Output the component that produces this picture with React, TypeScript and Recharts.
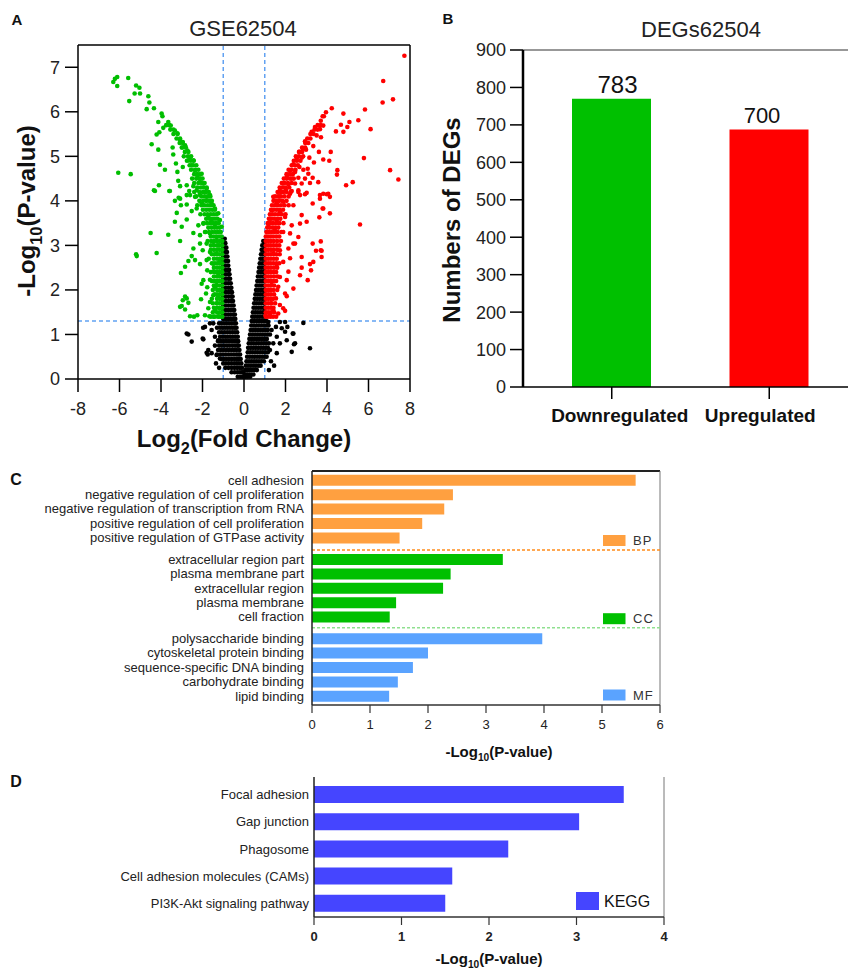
import React from 'react';
import {
  ScatterChart, Scatter, XAxis, YAxis, ReferenceLine,
  BarChart, Bar, Cell, LabelList,
} from 'recharts';

const FONT = '"Liberation Sans", Arial, Helvetica, sans-serif';
const INK = '#222';

type Row = [number, number[]];
type Pair = [number, number];

// ---------------- Panel A : volcano plot (log2FC, -log10 P) ----------------
const downScatter: Pair[] = [
  [-6.30,6.67],[-6.22,6.74],[-6.11,6.78],[-6.11,6.58],[-5.58,6.76],[-5.2,6.59],[-5.04,6.54],[-5.27,6.41],[-5.01,6.41],
  [-5.53,6.24],[-4.61,6.35],[-4.56,6.21],[-4.34,6.08],[-4.69,6.06],[-3.97,5.96],[-3.93,5.9],[-4.13,5.77],[-3.65,5.77],
  [-3.89,5.64],[-3.53,5.69],[-4.08,5.54],[-4.21,5.49],[-3.33,5.58],[-3.21,5.52],[-3.08,5.36],[-2.95,5.32],[-2.84,5.25],
  [-3.0,5.2],[-2.73,5.13],[-4.45,5.27],[-4.13,5.15],[-3.44,5.2],[-3.41,5.04],[-2.6,4.98],[-2.68,4.91],[-2.44,4.91],
  [-2.52,4.8],[-2.36,4.69],[-2.25,4.57],[-2.12,4.5],[-1.96,4.39],[-1.8,4.28],[-1.64,4.13],[-4.05,4.81],[-3.81,4.7],
  [-3.21,4.65],[-2.95,4.76],[-3.28,4.84],[-6.06,4.63],[-5.46,4.6],[-4.1,4.35],[-4.34,4.24],[-3.6,4.22],[-3.17,4.45],
  [-3.08,4.33],[-2.76,4.35],[-2.64,4.22],[-2.44,4.33],[-2.28,4.24],[-2.12,4.13],[-2.76,4.13],[-3.15,4.07],[-2.04,4.61],
  [-2.12,4.42],[-1.88,4.2],[-4.29,4.22],[-3.57,4.22],[-3.33,4.0],[-3.08,4.05],[-3.04,3.9],[-2.76,3.92],[-2.6,4.13],
  [-2.36,4.09],[-2.52,3.77],[-2.28,3.83],[-2.04,3.94],[-1.8,4.01],[-1.56,3.94],[-1.4,3.83],[-1.24,3.72],[-1.16,3.57],
  [-1.07,3.42],[-3.24,3.73],[-3.33,3.53],[-2.76,3.58],[-3.0,3.42],[-2.2,3.45],[-1.96,3.49],[-1.72,3.64],[-1.56,3.53],
  [-1.4,3.42],[-2.44,3.28],[-2.12,3.23],[-1.88,3.3],[-1.64,3.27],[-1.32,3.19],[-4.5,3.28],[-3.65,3.24],[-3.08,3.1],
  [-2.12,3.04],[-1.8,3.04],[-1.48,3.08],[-1.24,3.0],[-2.44,2.93],[-1.99,2.89],[-1.64,2.85],[-1.32,2.82],[-5.2,2.8],
  [-5.17,2.76],[-4.21,2.83],[-2.52,2.76],[-2.68,2.65],[-2.36,2.67],[-2.12,2.58],[-1.8,2.67],[-1.48,2.59],[-1.19,2.63],
  [-2.84,2.52],[-3.04,2.38],[-1.77,2.44],[-1.48,2.41],[-1.24,2.37],[-1.96,2.22],[-1.64,2.23],[-1.32,2.18],[-2.04,2.14],
  [-1.77,2.06],[-1.4,2.06],[-1.16,2.0],[-1.83,1.92],[-1.48,1.88],[-1.24,1.85],[-2.76,1.81],[-2.68,1.71],[-2.07,1.79],
  [-1.64,1.73],[-1.32,1.7],[-3.0,1.64],[-2.84,1.56],[-1.72,1.59],[-1.4,1.55],[-1.16,1.59],[-2.6,1.41],[-2.41,1.4],
  [-2.25,1.43],[-1.88,1.43],[-1.67,1.41],[-1.48,1.4],[-1.24,1.41],[-3.08,1.62],[-2.95,1.77],[-2.84,1.85],
];
const downDenseRows: Row[] = [
  [1.4,[-1.05,-1.15,-1.25,-1.4,-1.6]],[1.5,[-1.05,-1.17,-1.3,-1.5]],[1.6,[-1.05,-1.17,-1.3,-1.45]],
  [1.7,[-1.05,-1.17,-1.29,-1.5]],[1.8,[-1.05,-1.17,-1.3,-1.55]],[1.9,[-1.05,-1.17,-1.3,-1.42]],
  [2.0,[-1.05,-1.17,-1.29,-1.5]],[2.1,[-1.05,-1.17,-1.3,-1.45]],[2.2,[-1.05,-1.17,-1.29,-1.42,-1.55]],
  [2.3,[-1.05,-1.17,-1.3,-1.45]],[2.4,[-1.05,-1.17,-1.29,-1.4,-1.6]],[2.5,[-1.05,-1.17,-1.3,-1.45]],
  [2.6,[-1.05,-1.17,-1.29,-1.4,-1.55]],[2.7,[-1.05,-1.17,-1.3,-1.45,-1.7]],[2.8,[-1.05,-1.17,-1.3,-1.42,-1.55]],
  [2.9,[-1.05,-1.17,-1.3,-1.45,-1.6]],[3.0,[-1.05,-1.17,-1.3,-1.45,-1.6]],[3.1,[-1.05,-1.17,-1.3,-1.43,-1.58,-1.75]],
  [3.2,[-1.08,-1.2,-1.33,-1.46,-1.6]],[3.3,[-1.12,-1.25,-1.38,-1.52,-1.68,-1.85]],[3.4,[-1.17,-1.3,-1.43,-1.57,-1.72]],
  [3.5,[-1.22,-1.35,-1.48,-1.62,-1.78,-1.95]],[3.6,[-1.28,-1.4,-1.53,-1.67,-1.82]],[3.7,[-1.33,-1.46,-1.6,-1.75,-1.9,-2.1]],
  [3.8,[-1.4,-1.53,-1.67,-1.82,-1.98]],[3.9,[-1.47,-1.6,-1.74,-1.9,-2.05,-2.25]],[4.0,[-1.55,-1.68,-1.82,-1.97,-2.15]],
  [4.1,[-1.62,-1.76,-1.9,-2.05,-2.3]],[4.2,[-1.7,-1.84,-1.98,-2.15,-2.4]],[4.3,[-1.8,-1.94,-2.08,-2.25]],
  [4.4,[-1.9,-2.04,-2.2,-2.4]],[4.5,[-2.0,-2.15,-2.3,-2.5]],[4.6,[-2.1,-2.25,-2.4]],[4.7,[-2.2,-2.35,-2.55]],
  [4.8,[-2.3,-2.45,-2.62]],[4.9,[-2.42,-2.56,-2.75]],[5.0,[-2.55,-2.7,-2.9]],[5.1,[-2.68,-2.85]],[5.2,[-2.8,-2.97]],
  [5.3,[-2.95,-3.1]],[5.4,[-3.08,-3.25]],[5.5,[-3.2,-3.4]],[5.6,[-3.4,-3.55]],[5.7,[-3.6,-3.75]],
];
const upScatter: Pair[] = [
  [7.73,7.26],[6.71,6.69],[6.68,6.21],[7.18,6.28],[5.83,6.05],[5.51,5.81],[6.1,5.61],[5.78,4.96],[7.04,4.69],[7.44,4.48],
  [4.79,5.96],[4.23,6.08],[3.95,5.99],[3.79,5.9],[4.67,5.71],[5.08,5.77],[4.98,5.66],[4.43,5.56],[4.79,5.55],[3.82,5.69],
  [3.42,5.66],[3.66,5.61],[3.26,5.55],[3.5,5.47],[3.71,5.43],[2.94,5.34],[3.34,5.23],[2.83,5.17],[2.67,5.1],[2.99,5.15],
  [3.61,5.1],[4.18,5.1],[2.54,4.95],[2.78,4.97],[3.15,4.97],[3.82,4.93],[4.11,4.9],[3.37,4.86],[2.38,4.82],[2.67,4.76],
  [2.22,4.69],[2.46,4.65],[2.86,4.7],[3.07,4.72],[4.5,4.69],[4.48,4.59],[2.06,4.54],[2.3,4.5],[2.62,4.52],[2.94,4.5],
  [3.31,4.52],[3.1,4.61],[3.58,4.42],[5.24,4.42],[4.92,4.35],[1.89,4.39],[2.14,4.37],[2.46,4.39],[2.78,4.39],[3.18,4.4],
  [1.73,4.24],[2.02,4.25],[2.3,4.22],[2.62,4.24],[3.02,4.18],[1.7,4.1],[3.66,4.13],[3.82,4.16],[4.06,4.16],[2.7,4.13],
  [1.82,4.2],[2.22,4.16],[2.62,4.2],[2.94,4.15],[3.31,3.94],[3.66,4.05],[3.99,4.15],[4.14,4.09],[3.82,3.83],[3.63,3.63],
  [4.14,3.72],[5.59,3.47],[1.41,4.09],[1.58,3.94],[1.89,3.98],[2.38,3.9],[2.78,3.68],[3.02,3.53],[2.7,3.49],[2.3,3.45],
  [1.98,3.64],[1.73,3.75],[1.33,3.79],[1.25,3.6],[1.58,3.57],[1.17,3.42],[1.49,3.34],[1.89,3.3],[2.22,3.27],[2.62,3.19],
  [2.46,3.04],[3.31,3.04],[3.7,3.09],[3.47,2.88],[3.74,2.88],[3.74,2.74],[2.78,2.74],[3.34,2.63],[3.18,2.58],[3.23,2.44],
  [2.78,2.5],[2.7,2.33],[3.07,2.22],[2.38,2.03],[1.98,1.92],[2.06,1.86],[1.73,1.66],[1.89,1.59],[1.33,1.7],[1.41,1.55],
  [1.65,1.47],[1.98,1.53],[1.25,1.43],[1.04,1.43],[2.38,3.04],[2.14,2.93],[1.73,2.89],[1.41,2.82],[2.22,2.71],[1.89,2.63],
  [1.58,2.52],[2.14,2.41],[1.73,2.29],[1.33,2.18],[2.06,2.22],[1.65,2.07],[1.25,2.0],[1.54,1.81],[3.79,3.83],[3.7,2.89],
];
const upDenseRows: Row[] = [
  [1.4,[1.05,1.15,1.27,1.4,1.55]],[1.5,[1.05,1.17,1.3,1.45]],[1.6,[1.05,1.17,1.29,1.42]],[1.7,[1.05,1.17,1.3,1.5]],
  [1.8,[1.05,1.17,1.29,1.4]],[1.9,[1.05,1.17,1.3,1.45]],[2.0,[1.05,1.17,1.29,1.42,1.6]],[2.1,[1.05,1.17,1.3,1.45]],
  [2.2,[1.05,1.17,1.29,1.42,1.55]],[2.3,[1.05,1.17,1.3,1.45,1.62]],[2.4,[1.05,1.17,1.29,1.42,1.55]],
  [2.5,[1.05,1.17,1.3,1.45,1.6]],[2.6,[1.05,1.17,1.29,1.42,1.56,1.7]],[2.7,[1.05,1.17,1.3,1.44,1.58]],
  [2.8,[1.05,1.17,1.29,1.42,1.56,1.72]],[2.9,[1.05,1.17,1.3,1.44,1.6]],[3.0,[1.05,1.17,1.29,1.42,1.56,1.7]],
  [3.1,[1.05,1.17,1.3,1.44,1.6,1.78]],[3.2,[1.05,1.15,1.27,1.4,1.55,1.7]],[3.3,[1.08,1.2,1.33,1.47,1.62,1.8]],
  [3.4,[1.12,1.24,1.37,1.5,1.65]],[3.5,[1.15,1.27,1.4,1.55,1.7,1.9]],[3.6,[1.2,1.32,1.45,1.6,1.75]],
  [3.7,[1.25,1.37,1.5,1.65,1.82,2.0]],[3.8,[1.3,1.42,1.56,1.7,1.88]],[3.9,[1.35,1.48,1.62,1.78,1.95,2.15]],
  [4.0,[1.42,1.55,1.7,1.85,2.05]],[4.1,[1.5,1.64,1.78,1.95,2.15]],[4.2,[1.62,1.76,1.9,2.05,2.25]],
  [4.3,[1.72,1.86,2.0,2.18]],[4.4,[1.82,1.96,2.12,2.3]],[4.5,[1.92,2.06,2.22,2.4]],[4.6,[2.05,2.2,2.35]],
  [4.7,[2.15,2.3,2.48]],[4.8,[2.3,2.45,2.6]],[4.9,[2.4,2.55,2.72]],[5.0,[2.5,2.65,2.85]],[5.1,[2.65,2.8]],
  [5.2,[2.8,2.95]],[5.3,[2.95,3.1]],[5.4,[3.05,3.2]],[5.5,[3.2,3.35]],[5.6,[3.4,3.55]],[5.7,[3.55,3.7]],
  [5.8,[3.7]],[5.9,[3.85]],
];
const nsScatter: Pair[] = [
  [-2.76,1.02],[-2.52,0.84],[-1.96,0.89],[-1.88,1.17],[-1.64,1.25],[-1.56,1.1],[-1.4,0.95],[-1.72,0.65],[-1.56,0.58],
  [-1.32,0.54],[-1.16,0.46],[-1.48,1.25],[-1.24,0.87],[-1.97,1.15],[-2.68,1.0],[-1.99,0.91],[-1.8,0.59],[-1.75,0.55],
  [-1.3,1.15],[-1.4,0.75],[-1.35,0.35],[-1.2,0.25],
  [1.17,1.28],[1.33,1.1],[1.54,1.17],[1.58,0.95],[1.41,0.8],[1.73,0.8],[1.98,1.06],[2.09,1.17],[2.35,1.02],[2.46,0.8],
  [2.3,0.61],[1.25,0.65],[1.58,0.58],[1.09,0.5],[2.86,1.26],[3.18,0.69],[1.98,1.28],[1.73,1.28],[2.38,1.02],[2.41,0.78],
  [1.82,1.14],[2.06,0.87],[1.3,0.4],[1.45,0.3],[1.2,0.2],
];
const nsLeftRows: Row[] = [
  [3.15,[-1.02,-0.93]],[3.05,[-1.0,-0.9]],[2.95,[-1.0,-0.92,-0.85]],[2.85,[-1.0,-0.9,-0.82]],[2.75,[-1.0,-0.9,-0.8]],
  [2.65,[-1.0,-0.9,-0.8,-0.77]],[2.55,[-1.0,-0.88,-0.76]],[2.45,[-1.0,-0.88,-0.76,-0.72]],[2.35,[-1.0,-0.87,-0.75,-0.7]],
  [2.25,[-1.0,-0.87,-0.75,-0.67]],[2.15,[-1.0,-0.87,-0.75,-0.64]],[2.05,[-1.0,-0.88,-0.76,-0.64,-0.61]],
  [1.95,[-1.0,-0.87,-0.74,-0.62,-0.58]],[1.85,[-1.0,-0.87,-0.74,-0.62,-0.55]],[1.75,[-1.0,-0.87,-0.74,-0.62,-0.53]],
  [1.65,[-1.0,-0.87,-0.74,-0.61,-0.5]],[1.55,[-1.0,-0.88,-0.76,-0.64,-0.52,-0.47]],[1.45,[-1.0,-0.88,-0.76,-0.64,-0.52,-0.44]],
  [1.35,[-1.0,-0.88,-0.76,-0.64,-0.52,-0.42]],[1.25,[-1.2,-1.08,-0.96,-0.84,-0.72,-0.6,-0.48,-0.39]],
  [1.15,[-1.15,-1.03,-0.91,-0.79,-0.67,-0.55,-0.44,-0.36]],[1.05,[-1.2,-1.07,-0.94,-0.81,-0.68,-0.56,-0.44,-0.33]],
  [0.95,[-1.15,-1.02,-0.9,-0.78,-0.66,-0.54,-0.42,-0.3]],[0.85,[-1.25,-1.12,-0.99,-0.86,-0.73,-0.6,-0.48,-0.36,-0.28]],
  [0.75,[-1.2,-1.07,-0.94,-0.81,-0.68,-0.55,-0.43,-0.32,-0.25]],[0.65,[-1.25,-1.12,-0.99,-0.86,-0.73,-0.6,-0.48,-0.36,-0.22]],
  [0.55,[-1.3,-1.15,-1.02,-0.89,-0.76,-0.63,-0.5,-0.38,-0.28,-0.19]],[0.45,[-1.1,-0.97,-0.84,-0.71,-0.58,-0.45,-0.33,-0.22,-0.16]],
  [0.35,[-1.0,-0.87,-0.74,-0.61,-0.48,-0.36,-0.25,-0.13]],[0.25,[-0.9,-0.75,-0.6,-0.46,-0.33,-0.2,-0.1]],
  [0.15,[-0.6,-0.45,-0.32,-0.2,-0.1,-0.05]],[0.05,[-0.3,-0.18,-0.08,0.0,0.08,0.18,0.3]],
];
const nsRightRows: Row[] = [
  [3.1,[0.93,1.0]],[3.0,[0.88,0.95,1.0]],[2.9,[0.85,0.93,1.0]],[2.8,[0.82,0.91,1.0]],[2.7,[0.79,0.89,1.0]],
  [2.6,[0.76,0.88,1.0]],[2.5,[0.73,0.85,0.97]],[2.4,[0.7,0.82,0.94,1.0]],[2.3,[0.67,0.79,0.91,1.0]],
  [2.2,[0.64,0.76,0.88,1.0]],[2.1,[0.61,0.73,0.85,0.97]],[2.0,[0.58,0.7,0.82,0.94,1.0]],[1.9,[0.55,0.67,0.79,0.91,1.0]],
  [1.8,[0.52,0.64,0.76,0.88,1.0]],[1.7,[0.49,0.61,0.73,0.85,0.97]],[1.6,[0.46,0.58,0.7,0.82,0.94,1.0]],
  [1.5,[0.43,0.55,0.67,0.79,0.91,1.0]],[1.4,[0.4,0.52,0.64,0.76,0.88,1.0]],[1.3,[0.37,0.49,0.61,0.73,0.85,0.97,1.08]],
  [1.2,[0.35,0.47,0.59,0.71,0.83,0.95,1.07,1.18]],[1.1,[0.32,0.44,0.56,0.68,0.8,0.92,1.04,1.15]],
  [1.0,[0.29,0.41,0.53,0.65,0.77,0.89,1.01,1.13,1.25]],[0.9,[0.26,0.38,0.5,0.62,0.74,0.86,0.98,1.1]],
  [0.8,[0.23,0.35,0.47,0.59,0.71,0.83,0.95,1.07,1.2]],[0.7,[0.2,0.32,0.44,0.56,0.68,0.8,0.92,1.04,1.15]],
  [0.6,[0.18,0.3,0.42,0.54,0.66,0.78,0.9,1.02,1.15]],[0.5,[0.15,0.27,0.39,0.51,0.63,0.75,0.87,0.99]],
  [0.4,[0.12,0.24,0.36,0.48,0.6,0.72,0.84,0.96]],[0.3,[0.09,0.2,0.32,0.44,0.56,0.68,0.8]],
  [0.2,[0.06,0.16,0.27,0.38,0.5,0.62]],[0.1,[0.04,0.12,0.22,0.33,0.45]],
];
const volcanoXTicks = [-8, -6, -4, -2, 0, 2, 4, 6, 8];
const volcanoYTicks = [0, 1, 2, 3, 4, 5, 6, 7];
const fcCutoff = 1;
const pCutoff = 1.3;

// ---------------- Panel B : DEG counts ----------------
const degCategories = ['Downregulated', 'Upregulated'];
const degCounts = [770, 688];
const degLabels = ['783', '700'];
const degYTicks = [0, 100, 200, 300, 400, 500, 600, 700, 800, 900];

// ---------------- Panel C : GO enrichment ----------------
const goTerms = [
  'cell adhesion', 'negative regulation of cell proliferation', 'negative regulation of transcription from RNA',
  'positive regulation of cell proliferation', 'positive regulation of GTPase activity',
  'extracellular region part', 'plasma membrane part', 'extracellular region', 'plasma membrane', 'cell fraction',
  'polysaccharide binding', 'cytoskeletal protein binding', 'sequence-specific DNA binding', 'carbohydrate binding', 'lipid binding',
];
const goValues = [5.58, 2.43, 2.28, 1.90, 1.51, 3.29, 2.39, 2.26, 1.45, 1.34, 3.97, 2.00, 1.74, 1.48, 1.33];
const goGroups = ['BP','BP','BP','BP','BP','CC','CC','CC','CC','CC','MF','MF','MF','MF','MF'];
const goCategories = ['BP', 'CC', 'MF'];
const goXTicks = [0, 1, 2, 3, 4, 5, 6];

// ---------------- Panel D : KEGG ----------------
const keggTerms = ['Focal adhesion', 'Gap junction', 'Phagosome', 'Cell adhesion molecules (CAMs)', 'PI3K-Akt signaling pathway'];
const keggValues = [3.54, 3.03, 2.22, 1.58, 1.50];
const keggXTicks = [0, 1, 2, 3, 4];

// ---------------- derived tables ----------------
const fromPairs = (p: Pair[]) => p.map(([x, y]) => ({ x, y }));
const fromRows = (rows: Row[]) => rows.flatMap(([y, xs]) => xs.map((x) => ({ x, y })));
const downPoints = [...fromRows(downDenseRows), ...fromPairs(downScatter)];
const upPoints = [...fromRows(upDenseRows), ...fromPairs(upScatter)];
const nsPoints = [...fromRows(nsLeftRows), ...fromRows(nsRightRows), ...fromPairs(nsScatter)];

const degData = degCategories.map((name, i) => ({ name, count: degCounts[i], label: degLabels[i] }));

const GROUP_GAP = 0.5;
const goData = goTerms.map((term, i) => ({
  term, value: goValues[i], group: goGroups[i],
  pos: i + goCategories.indexOf(goGroups[i]) * GROUP_GAP,
}));
const keggData = keggTerms.map((term, i) => ({ term, value: keggValues[i] }));

// ---------------- styles ----------------
const GREEN = '#00BE00';
const RED = '#FF0000';
const DASH_BLUE = '#62A2F2';
const GO_COLORS: Record<string, string> = { BP: '#FFA040', CC: '#00C000', MF: '#5AA3FF' };
const KEGG_COLOR = '#4545FF';

const dot = (color: string) => (p: any) =>
  p.cx == null ? null : <circle cx={p.cx} cy={p.cy} r={2.3} fill={color} />;

const SubTitle = ({ px, py, size, pre, sub, post, rotate }: any) => (
  <text
    x={px} y={py} textAnchor="middle" fontFamily={FONT} fontWeight="bold" fontSize={size} fill="#111"
    transform={rotate ? `rotate(-90 ${px} ${py})` : undefined}
  >
    <tspan>{pre}</tspan>
    <tspan fontSize={size * 0.68} dy={size * 0.28}>{sub}</tspan>
    <tspan dy={-size * 0.28}>{post}</tspan>
  </text>
);

const PlainTitle = ({ px, py, size, text }: any) => (
  <text x={px} y={py} textAnchor="middle" fontFamily={FONT} fontWeight="bold" fontSize={size} fill="#111"
    transform={`rotate(-90 ${px} ${py})`}>{text}</text>
);

const DegTick = (props: any) => {
  const { x, y, payload, index } = props;
  const shift = index === 0 ? 8 : -9;
  return (
    <text x={x + shift} y={y} dy="0.71em" textAnchor="middle" fontFamily={FONT} fontWeight="bold" fontSize={19} fill="#111">
      {payload.value}
    </text>
  );
};

const DegLabel = (props: any) => {
  const { x, y, width, value, index } = props;
  const shift = index === 0 ? 6 : -7;
  return (
    <text x={x + width / 2 + shift} y={y - 6} textAnchor="middle" fontFamily={FONT} fontSize={index === 0 ? 24 : 22} fill="#111">
      {value}
    </text>
  );
};

const goLabelOf = (v: number) => {
  const hit = goData.find((d) => Math.abs(d.pos - v) < 1e-6);
  return hit ? hit.term : '';
};

export default function App() {
  const tickA = { fontSize: 18, fill: INK, fontFamily: FONT };
  return (
    <div style={{ position: 'absolute', left: 0, top: 0, width: 848, height: 969, background: '#fff', fontFamily: FONT, overflow: 'hidden' }}>
      {/* Panel A */}
      <div style={{ position: 'absolute', left: 0, top: 0 }}>
        <ScatterChart width={420} height={462} margin={{ top: 45, right: 10, bottom: 0, left: 0 }}>
          <XAxis
            type="number" dataKey="x" domain={[-8, 8]} ticks={volcanoXTicks} interval={0}
            height={83} tickSize={13} tickMargin={10} tick={tickA}
            axisLine={{ stroke: '#000', strokeWidth: 1.5 }} tickLine={{ stroke: '#000', strokeWidth: 1.5 }}
            label={<SubTitle px={244} py={447} size={24} pre="Log" sub="2" post="(Fold Change)" />}
          />
          <YAxis
            type="number" dataKey="y" domain={[0, 7.5]} ticks={volcanoYTicks} interval={0}
            width={78} tickSize={13} tickMargin={5} tick={tickA}
            axisLine={{ stroke: '#000', strokeWidth: 1.5 }} tickLine={{ stroke: '#000', strokeWidth: 1.5 }}
            label={<SubTitle px={35} py={211} size={24} pre="-Log" sub="10" post="(P-value)" rotate />}
          />
          <Scatter data={nsPoints} shape={dot('#000')} isAnimationActive={false} />
          <Scatter data={downPoints} shape={dot(GREEN)} isAnimationActive={false} />
          <Scatter data={upPoints} shape={dot(RED)} isAnimationActive={false} />
          <ReferenceLine x={-fcCutoff} stroke={DASH_BLUE} strokeDasharray="4 3" strokeWidth={1.5} />
          <ReferenceLine x={fcCutoff} stroke={DASH_BLUE} strokeDasharray="4 3" strokeWidth={1.5} />
          <ReferenceLine y={pCutoff} stroke={DASH_BLUE} strokeDasharray="4 3" strokeWidth={1.5} />
          <ReferenceLine y={7.5} stroke="#000" strokeWidth={1.5} />
          <ReferenceLine x={8} stroke="#000" strokeWidth={1.5} />
        </ScatterChart>
      </div>

      {/* Panel B */}
      <div style={{ position: 'absolute', left: 420, top: 0 }}>
        <BarChart width={428} height={450} data={degData} margin={{ top: 50, right: 0, bottom: 0, left: 0 }}>
          <XAxis
            dataKey="name" height={63} padding={{ left: 10, right: 0 }} tickSize={12} tickMargin={10}
            tick={<DegTick />} axisLine={{ stroke: '#000', strokeWidth: 1.5 }} tickLine={{ stroke: '#000', strokeWidth: 1.5 }}
          />
          <YAxis
            type="number" domain={[0, 900]} ticks={degYTicks} interval={0} width={103} tickSize={13} tickMargin={4}
            tick={{ fontSize: 18, fill: INK, fontFamily: FONT }}
            axisLine={{ stroke: '#000', strokeWidth: 2.5 }} tickLine={{ stroke: '#000', strokeWidth: 1.5 }}
            label={<PlainTitle px={40} py={220} size={24} text="Numbers of DEGs" />}
          />
          <ReferenceLine y={900} stroke="#333" strokeWidth={1.2} />
          <Bar dataKey="count" barSize={79} isAnimationActive={false}>
            <Cell fill="#00C000" />
            <Cell fill="#FF0000" />
            <LabelList dataKey="label" content={<DegLabel />} />
          </Bar>
        </BarChart>
      </div>

      {/* Panel C */}
      <div style={{ position: 'absolute', left: 0, top: 460 }}>
        <BarChart layout="vertical" width={680} height={308} data={goData} margin={{ top: 11, right: 20, bottom: 0, left: 0 }}>
          <XAxis
            type="number" domain={[0, 6]} ticks={goXTicks} interval={0} height={63} tickSize={8} tickMargin={7}
            tick={{ fontSize: 13, fill: INK, fontFamily: FONT }}
            axisLine={{ stroke: '#333', strokeWidth: 1.5 }} tickLine={{ stroke: '#333', strokeWidth: 1.2 }}
            label={<SubTitle px={499} py={297} size={15} pre="-Log" sub="10" post="(P-value)" />}
          />
          <YAxis
            type="number" dataKey="pos" domain={[-0.625, 15.625]} ticks={goData.map((d) => d.pos)} interval={0}
            tickFormatter={goLabelOf} width={312} tickSize={0} tickMargin={8} tickLine={false}
            tick={{ fontSize: 13, fill: INK, fontFamily: FONT }} axisLine={{ stroke: '#222', strokeWidth: 1.5 }}
          />
          <ReferenceLine y={-0.625} stroke="#222" strokeWidth={2} />
          <ReferenceLine x={6} stroke="#777" strokeWidth={1} />
          <ReferenceLine y={4.86} stroke="#FF8C1A" strokeDasharray="3 2" strokeWidth={1.5} />
          <ReferenceLine y={10.26} stroke="#8FE08F" strokeDasharray="3 2" strokeWidth={1.5} />
          <Bar dataKey="value" barSize={11} isAnimationActive={false}>
            {goData.map((d, i) => <Cell key={i} fill={GO_COLORS[d.group]} />)}
          </Bar>
        </BarChart>
      </div>

      {/* Panel D */}
      <div style={{ position: 'absolute', left: 0, top: 770 }}>
        <BarChart layout="vertical" width={680} height={199} data={keggData} margin={{ top: 7, right: 16, bottom: 0, left: 0 }}>
          <XAxis
            type="number" domain={[0, 4]} ticks={keggXTicks} interval={0} height={52} tickSize={8} tickMargin={7}
            tick={{ fontSize: 13, fill: INK, fontFamily: FONT, fontWeight: 'bold' }}
            axisLine={{ stroke: '#333', strokeWidth: 1.5 }} tickLine={{ stroke: '#333', strokeWidth: 1.2 }}
            label={<SubTitle px={489} py={194} size={15} pre="-Log" sub="10" post="(P-value)" />}
          />
          <XAxis
            xAxisId="top" orientation="top" type="number" domain={[0, 4]} height={0} tick={false} tickLine={false}
            axisLine={{ stroke: '#222', strokeWidth: 2 }}
          />
          <YAxis
            type="category" dataKey="term" width={314} tickSize={0} tickMargin={5} tickLine={false} interval={0}
            padding={{ top: 4, bottom: 0 }} tick={{ fontSize: 13, fill: INK, fontFamily: FONT }}
            axisLine={{ stroke: '#222', strokeWidth: 1.5 }}
          />
          <ReferenceLine x={4} stroke="#777" strokeWidth={1} />
          <Bar dataKey="value" barSize={17} fill={KEGG_COLOR} isAnimationActive={false} />
        </BarChart>
      </div>

      {/* titles, panel letters, legends */}
      <svg width={848} height={969} style={{ position: 'absolute', left: 0, top: 0, pointerEvents: 'none' }}>
        <g fontFamily={FONT} fill="#111">
          <text x={17} y={25} fontWeight="bold" fontSize={15} textAnchor="middle">A</text>
          <text x={448} y={24} fontWeight="bold" fontSize={15} textAnchor="middle">B</text>
          <text x={16} y={485} fontWeight="bold" fontSize={16} textAnchor="middle">C</text>
          <text x={16} y={787} fontWeight="bold" fontSize={16} textAnchor="middle">D</text>
          <text x={243} y={36} fontSize={22} textAnchor="middle" fill={INK}>GSE62504</text>
          <text x={701} y={37} fontSize={22} textAnchor="middle" fill={INK}>DEGs62504</text>
        </g>
        {goCategories.map((g, i) => {
          const cy = [540.5, 618.7, 695][i];
          return (
            <g key={g}>
              <rect x={603} y={cy - 5.5} width={22.5} height={11} fill={GO_COLORS[g]} />
              <text x={633} y={cy + 4.7} fontFamily={FONT} fontSize={13} fill="#333" letterSpacing={1}>{g}</text>
            </g>
          );
        })}
        <rect x={576} y={892} width={23} height={18} fill={KEGG_COLOR} />
        <text x={604} y={907} fontFamily={FONT} fontSize={16} fill="#111">KEGG</text>
      </svg>
    </div>
  );
}
